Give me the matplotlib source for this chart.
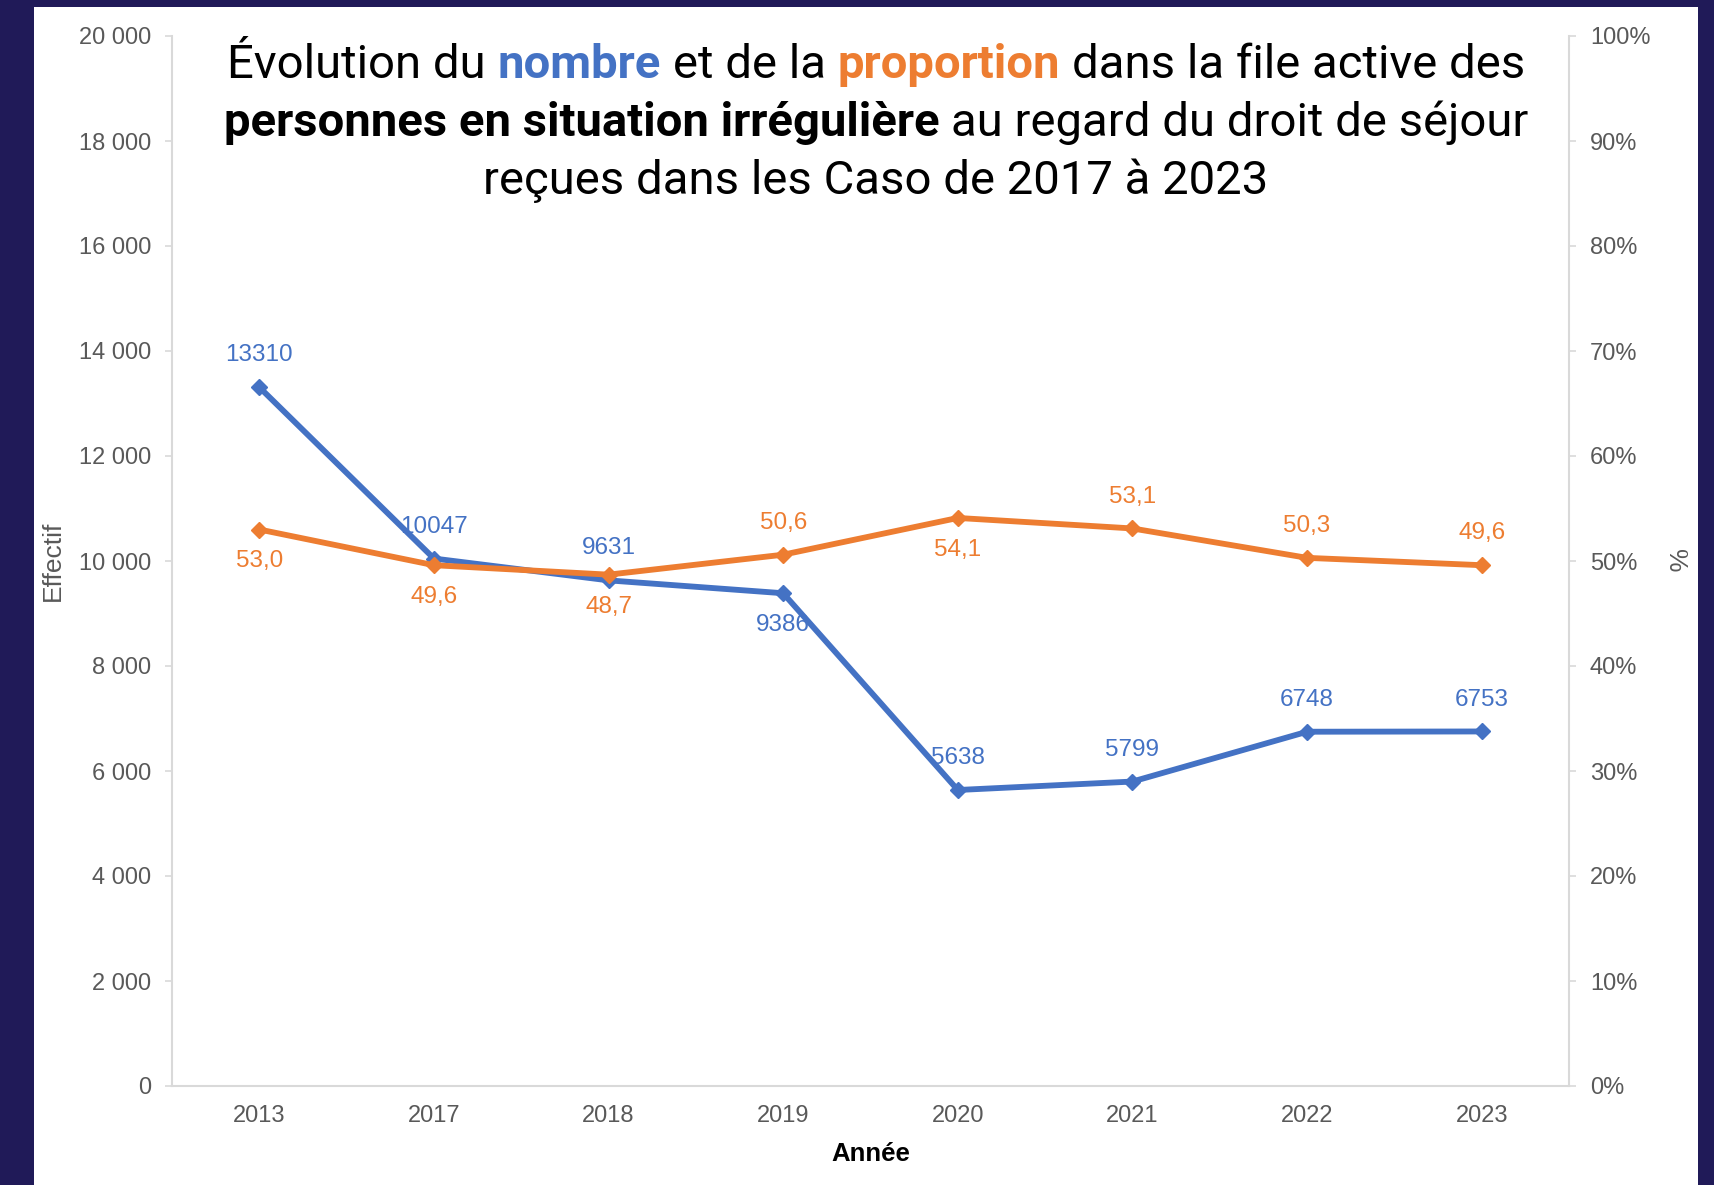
import matplotlib
matplotlib.use("Agg")
import matplotlib.pyplot as plt
from matplotlib.patches import Rectangle
from matplotlib.ticker import FuncFormatter, MultipleLocator

# données
annees = ["2013", "2017", "2018", "2019", "2020", "2021", "2022", "2023"]
nombre = [13310, 10047, 9631, 9386, 5638, 5799, 6748, 6753]
proportion = [53.0, 49.6, 48.7, 50.6, 54.1, 53.1, 50.3, 49.6]
# position des étiquettes : +1 au-dessus, -1 en dessous
pos_nombre = [1, 1, 1, -1, 1, 1, 1, 1]
pos_prop = [-1, -1, -1, 1, -1, 1, 1, 1]

BLEU = "#4472C4"
ORANGE = "#ED7D31"
GRIS = "#595959"
GRILLE = "#D9D9D9"
NAVY = "#201A58"

W, H = 1714, 1185
fig = plt.figure(figsize=(W / 100, H / 100), dpi=100)
fig.patch.set_facecolor(NAVY)
fig.patches.append(Rectangle((34 / W, 0), (1698 - 34) / W, (H - 7) / H,
                             transform=fig.transFigure, facecolor="white",
                             edgecolor="none", zorder=-5))

ax = fig.add_axes([172 / W, (H - 1086) / H, (1569 - 172) / W, (1086 - 36) / H])
ax.set_facecolor("none")
ax2 = ax.twinx()

x = range(len(annees))
ax.plot(x, nombre, color=BLEU, lw=4.2, marker="D", ms=8.5, zorder=3)
ax2.plot(x, proportion, color=ORANGE, lw=4.2, marker="D", ms=8.5, zorder=3)

lab_font = ["Liberation Sans Narrow", "Liberation Sans"]
for i, v in enumerate(nombre):
    ax.annotate(str(v), (i, v), xytext=(0, 23 * pos_nombre[i]),
                textcoords="offset points", ha="center", va="center",
                color=BLEU, fontsize=17.5, family=lab_font)
for i, v in enumerate(proportion):
    ax2.annotate(f"{v:.1f}".replace(".", ","), (i, v), xytext=(0, 23 * pos_prop[i]),
                 textcoords="offset points", ha="center", va="center",
                 color=ORANGE, fontsize=17.5, family=lab_font)

ax.set_xlim(-0.5, len(annees) - 0.5)
ax.set_ylim(0, 20000)
ax2.set_ylim(0, 100)
ax.yaxis.set_major_locator(MultipleLocator(2000))
ax2.yaxis.set_major_locator(MultipleLocator(10))
ax.yaxis.set_major_formatter(FuncFormatter(lambda v, p: f"{int(v):,}".replace(",", " ")))
ax2.yaxis.set_major_formatter(FuncFormatter(lambda v, p: f"{int(v)}%"))
ax.set_xticks(list(x))
ax.set_xticklabels(annees)

for a in (ax, ax2):
    for s in a.spines.values():
        s.set_color(GRILLE)
        s.set_linewidth(1.5)
    a.spines["top"].set_visible(False)
ax.spines["right"].set_visible(False)
ax2.spines["left"].set_visible(False)
ax2.spines["bottom"].set_visible(False)

ax.tick_params(axis="y", length=5, width=1.2, color=GRILLE, pad=10,
               labelsize=17, labelcolor=GRIS)
ax.tick_params(axis="x", length=0, pad=13.5, labelsize=17, labelcolor=GRIS)
ax2.tick_params(axis="y", length=5, width=1.2, color=GRILLE, pad=10,
                labelsize=17, labelcolor=GRIS)
for t in ax.get_xticklabels() + ax.get_yticklabels() + ax2.get_yticklabels():
    t.set_family("Liberation Sans")

ax.set_xlabel("Année", fontsize=18.5, fontweight="bold", color="black",
              family="Liberation Sans", labelpad=11)
fig.text(53 / W, 1 - 561 / H, "Effectif", rotation=90, ha="center", va="center",
         fontsize=19, color=GRIS, family="Liberation Sans")
fig.text(1675 / W, 1 - 561 / H, "%", rotation=270, ha="center", va="center",
         fontsize=19, color=GRIS, family="Liberation Sans")

# titre multicolore
titre = [
    [("Évolution du", "black", "normal"), ("nombre", BLEU, "bold"),
     ("et de la", "black", "normal"), ("proportion", ORANGE, "bold"),
     ("dans la file active des", "black", "normal")],
    [("personnes en situation irrégulière", "black", "bold"),
     ("au regard du droit de séjour", "black", "normal")],
    [("reçues dans les Caso de 2017 à 2023", "black", "normal")],
]
titre_y = [65, 123, 181]
titre_cx = 876
tfont = "Roboto"
tsize = 34

r = fig.canvas.get_renderer()
t1 = fig.text(0, 0, "x x", fontsize=tsize, family=tfont)
t2 = fig.text(0, 0, "xx", fontsize=tsize, family=tfont)
espace = t1.get_window_extent(r).width - t2.get_window_extent(r).width
t1.remove()
t2.remove()

for ligne, yy in zip(titre, titre_y):
    objs = []
    for s, c, w in ligne:
        objs.append(fig.text(0, 1 - yy / H, s, color=c, fontweight=w, fontsize=tsize,
                             family=tfont, ha="left", va="center"))
    larg = [o.get_window_extent(r).width for o in objs]
    total = sum(larg) + espace * (len(objs) - 1)
    x0 = titre_cx - total / 2
    for o, l in zip(objs, larg):
        o.set_x(x0 / W)
        x0 += l + espace

fig.savefig("out.png", dpi=100, facecolor=fig.get_facecolor())
